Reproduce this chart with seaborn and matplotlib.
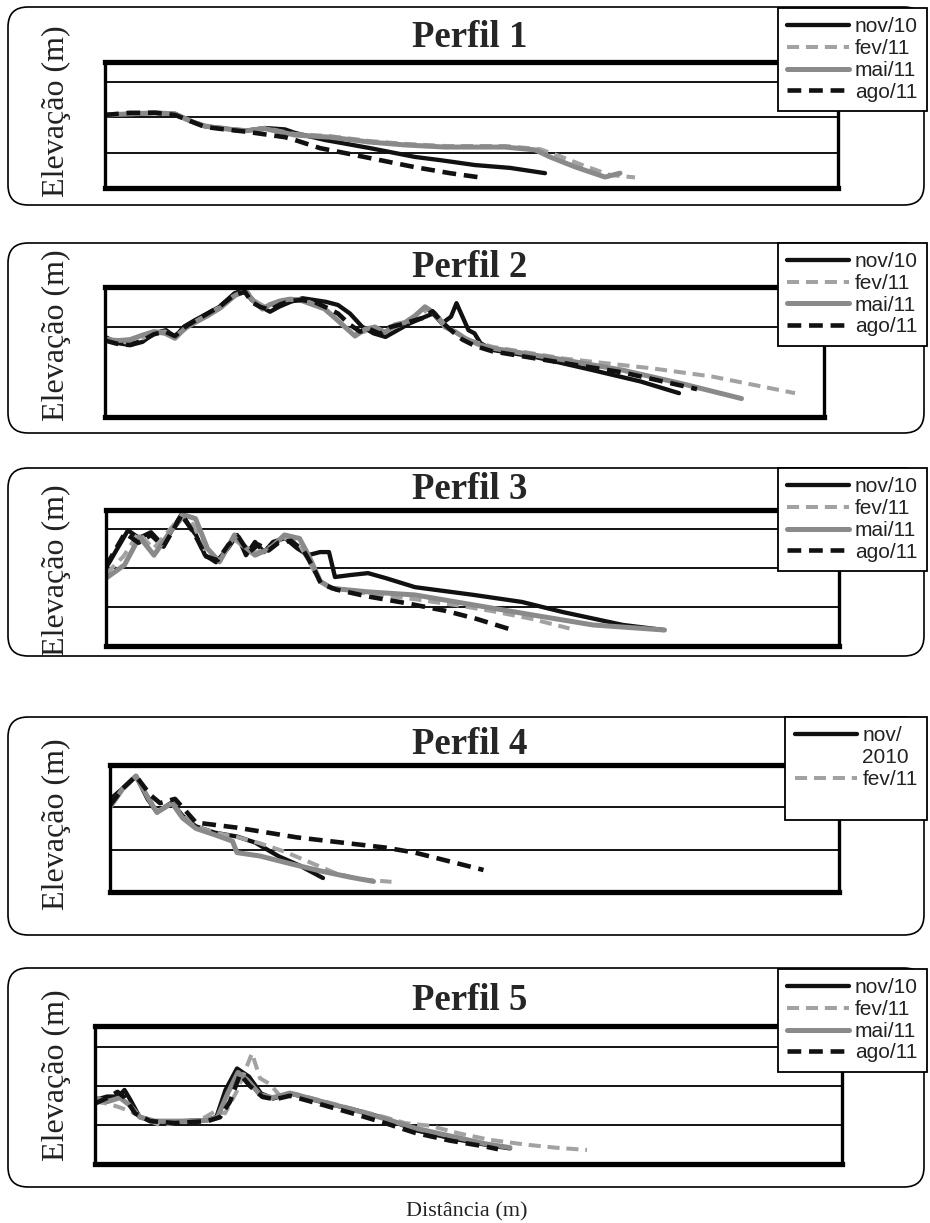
import matplotlib
matplotlib.use("Agg")
import matplotlib.pyplot as plt
import seaborn as sns
from matplotlib.patches import FancyBboxPatch
from matplotlib.lines import Line2D

# ---------------- data (distance / elevation) ----------------
# Perfil 1
p1_nov_x = [0, 5, 10, 14, 17, 20, 24, 28, 32, 36, 38, 44, 53, 62, 67, 74, 81, 88]
p1_nov_y = [2.07, 2.1, 2.13, 2.1, 1.9, 1.75, 1.68, 1.62, 1.7, 1.66, 1.56, 1.36, 1.13, 0.88, 0.79, 0.65, 0.57, 0.42]
p1_fev_x = [0, 5, 10, 14, 17, 20, 24, 28, 32, 38, 45, 53, 60, 68, 80, 87, 91, 96, 101, 106]
p1_fev_y = [2.07, 2.1, 2.13, 2.1, 1.92, 1.77, 1.7, 1.64, 1.7, 1.53, 1.47, 1.33, 1.25, 1.19, 1.19, 1.1, 0.9, 0.62, 0.37, 0.3]
p1_mai_x = [0, 5, 10, 14, 17, 20, 24, 28, 32, 38, 45, 53, 60, 68, 80, 86, 89, 94, 100, 103]
p1_mai_y = [2.07, 2.1, 2.13, 2.1, 1.9, 1.75, 1.68, 1.62, 1.68, 1.5, 1.44, 1.3, 1.22, 1.16, 1.16, 1.08, 0.88, 0.6, 0.31, 0.42]
p1_ago_x = [0, 5, 10, 14, 17, 20, 24, 28, 30, 36, 38, 43, 48, 55, 62, 69, 76]
p1_ago_y = [2.07, 2.13, 2.13, 2.07, 1.9, 1.73, 1.66, 1.6, 1.56, 1.44, 1.36, 1.13, 0.99, 0.79, 0.59, 0.42, 0.28]

# Perfil 2
p2_nov_x = [0, 2.7, 5.1, 7.5, 9.8, 12.2, 14, 15.8, 18.1, 20.5, 22.9, 25.9, 27.6, 29.4, 31.2, 33, 34.8, 37.1, 39.5, 41.9,
            44.2, 46.6, 49, 51.4, 53.7, 56.1, 58.5, 60.9, 63.2, 65.6, 67.4, 69.2, 70.3, 71.5, 72.7, 73.9, 75.1, 77.5, 85.8, 97.6,
            107.1, 114.8]
p2_nov_y = [1.78, 1.64, 1.6, 1.67, 1.86, 1.93, 1.78, 2.01, 2.16, 2.3, 2.45, 2.75, 2.82, 2.6, 2.45, 2.34, 2.45, 2.56, 2.64, 2.6,
            2.56, 2.49, 2.3, 2.01, 1.86, 1.78, 1.93, 2.08, 2.19, 2.3, 2.08, 2.23, 2.53, 2.23, 1.93, 1.86, 1.64, 1.49, 1.34, 1.04,
            0.79, 0.53]
p2_fev_x = [0, 2.7, 5, 7.5, 10, 12, 14, 16, 18, 20.5, 23, 26, 28.5, 30, 32, 34, 36, 38.5, 41, 43.5,
            46, 48, 50, 52, 54, 56, 58, 60.5, 62.5, 64.5, 66.5, 68.5, 70.5, 73, 77.5, 91.7, 109.5, 121.4, 138]
p2_fev_y = [1.75, 1.68, 1.65, 1.75, 1.88, 1.9, 1.8, 1.95, 2.12, 2.28, 2.45, 2.72, 2.78, 2.58, 2.45, 2.5, 2.6, 2.62, 2.55, 2.42,
            2.2, 2.0, 1.85, 1.9, 1.98, 1.9, 2.0, 2.1, 2.2, 2.4, 2.25, 1.98, 1.85, 1.7, 1.56, 1.3, 1.08, 0.9, 0.53]
p2_mai_x = [0, 2.7, 5, 7.5, 9.8, 12, 14, 16, 18, 20.5, 23, 26, 28, 30, 31.5, 33, 35, 37, 39, 41.5,
            44, 46.5, 48.5, 50, 52, 54, 56, 58, 60, 62, 64, 66, 68, 70, 72, 75, 77.5, 91.7, 103.6, 115.4, 127.3]
p2_mai_y = [1.72, 1.7, 1.72, 1.82, 1.9, 1.86, 1.75, 1.97, 2.1, 2.25, 2.42, 2.7, 2.8, 2.55, 2.4, 2.5, 2.58, 2.62, 2.6, 2.5,
            2.4, 2.15, 1.95, 1.8, 1.95, 2.0, 1.88, 2.05, 2.1, 2.25, 2.45, 2.3, 2.0, 1.9, 1.75, 1.6, 1.53, 1.27, 1.04, 0.74, 0.41]
p2_ago_x = [0, 2.7, 5, 7.5, 9.8, 12, 14, 16, 18, 20.5, 23, 25.9, 28, 29.4, 31, 33, 35, 37, 39.5, 42,
            44, 46.6, 49, 51, 53, 55, 57, 59, 61, 63.5, 65.5, 67.5, 69.5, 71.5, 74, 77.5, 91.7, 103.6, 118.4]
p2_ago_y = [1.7, 1.62, 1.6, 1.7, 1.84, 1.9, 1.8, 2.0, 2.14, 2.3, 2.46, 2.72, 2.78, 2.55, 2.45, 2.38, 2.5, 2.58, 2.6, 2.55,
            2.45, 2.3, 2.05, 1.9, 1.95, 1.85, 2.0, 2.05, 2.12, 2.2, 2.35, 2.1, 1.9, 1.72, 1.58, 1.46, 1.2, 0.99, 0.62]

# Perfil 3
p3_nov_x = [0, 4.4, 6.6, 9, 11.4, 15, 18, 19.8, 22, 24.4, 26.2, 28, 29.8, 31.6, 33.4, 35.8, 38.2, 40.4, 42.8, 44.6,
            45.8, 48.8, 52.4, 56, 61.8, 73.6, 83.2, 91.4, 103.4, 111.6]
p3_nov_y = [2.0, 2.97, 2.77, 2.92, 2.59, 3.36, 2.85, 2.33, 2.15, 2.51, 2.85, 2.33, 2.67, 2.41, 2.67, 2.77, 2.51, 2.33, 2.41, 2.41,
            1.77, 1.82, 1.87, 1.74, 1.51, 1.31, 1.13, 0.87, 0.54, 0.41]
p3_fev_x = [0, 3.5, 6.5, 9.5, 12.5, 15.4, 17.5, 20, 22.5, 25.5, 27.5, 30, 33, 35.5, 38.5, 40.5, 42.5, 45, 52, 61.8,
            70, 77, 85, 92.7]
p3_fev_y = [1.85, 2.3, 2.9, 2.5, 2.95, 3.4, 3.1, 2.4, 2.2, 2.75, 2.55, 2.4, 2.55, 2.78, 2.65, 2.2, 1.7, 1.5, 1.35, 1.2,
            1.05, 0.9, 0.7, 0.45]
p3_mai_x = [0, 3.7, 6.7, 9.6, 12.6, 15.6, 17.9, 20.3, 22.7, 25.7, 27.4, 29.8, 32.8, 35.7, 38.7, 40.5, 42.9, 45.2, 52.3, 61.8,
            73.7, 85.6, 97.4, 111.7]
p3_mai_y = [1.74, 2.08, 2.8, 2.33, 2.89, 3.36, 3.27, 2.5, 2.16, 2.85, 2.59, 2.33, 2.5, 2.85, 2.76, 2.33, 1.65, 1.48, 1.39, 1.31,
            1.05, 0.79, 0.54, 0.41]
p3_ago_x = [0, 3.8, 6.5, 9, 11.5, 15.2, 18, 20, 22.3, 24.5, 26.5, 28.5, 30.5, 32.5, 34.5, 37, 39.5, 41.5, 43, 46,
            52, 60, 68, 74, 80.8]
p3_ago_y = [2.05, 2.9, 2.65, 2.85, 2.55, 3.38, 2.8, 2.3, 2.2, 2.6, 2.8, 2.4, 2.6, 2.45, 2.65, 2.7, 2.45, 2.0, 1.6, 1.45,
            1.28, 1.1, 0.9, 0.7, 0.43]

# Perfil 4
p4_nov_x = [0, 2.6, 5.2, 7.5, 9.4, 12.4, 14.5, 17.2, 21, 25.4, 29, 33.8, 38, 42.6]
p4_nov_y = [2.19, 2.45, 2.74, 2.2, 1.88, 2.12, 1.8, 1.55, 1.4, 1.31, 1.17, 0.84, 0.62, 0.33]
p4_fev_x = [0, 2.6, 5.2, 7.5, 9.4, 12.4, 14.5, 17.2, 21, 25.4, 30, 35, 40, 45, 50, 56.3]
p4_fev_y = [2.05, 2.45, 2.7, 2.25, 1.9, 2.1, 1.8, 1.55, 1.4, 1.3, 1.15, 0.95, 0.7, 0.45, 0.3, 0.24]
p4_mai_x = [0, 2.6, 5.2, 7.5, 9.4, 12.4, 14.5, 17.2, 21, 24.5, 25.4, 30, 36, 42, 48, 52.7]
p4_mai_y = [2.0, 2.45, 2.74, 2.25, 1.88, 2.1, 1.75, 1.5, 1.35, 1.2, 0.93, 0.85, 0.67, 0.5, 0.35, 0.25]
p4_ago_x = [0, 2.6, 5.2, 8, 10, 13, 17.2, 25.4, 37.4, 55, 61, 74.7]
p4_ago_y = [2.05, 2.45, 2.74, 2.3, 2.1, 2.2, 1.64, 1.52, 1.29, 1.05, 0.93, 0.52]

# Perfil 5
p5_nov_x = [0, 2.4, 4.7, 5.9, 7.1, 8.9, 11.8, 16.6, 22.5, 24.3, 26.1, 28.4, 30.8, 33.2, 35.6, 39.1, 46.2, 52.2, 58.1, 64,
            71.2, 78.3, 83]
p5_nov_y = [1.64, 1.73, 1.73, 1.9, 1.64, 1.21, 1.09, 1.09, 1.13, 1.21, 1.9, 2.45, 2.24, 1.81, 1.68, 1.81, 1.56, 1.38, 1.17, 0.87,
            0.66, 0.49, 0.4]
p5_fev_x = [0, 2.5, 5, 8, 10, 13, 16, 20, 22, 24, 26, 28.5, 31.4, 33, 35, 37, 40, 46, 52, 58,
            62, 67, 73, 79, 86, 92, 98.4]
p5_fev_y = [1.6, 1.55, 1.45, 1.3, 1.15, 1.0, 1.05, 1.1, 1.2, 1.35, 1.3, 1.9, 2.84, 2.2, 2.05, 1.75, 1.8, 1.6, 1.4, 1.2,
            1.05, 0.98, 0.78, 0.62, 0.5, 0.42, 0.36]
p5_mai_x = [0, 2.5, 5, 7, 9, 12, 17, 22.5, 24.5, 26.5, 28.6, 30.5, 33, 35.5, 39, 46, 52, 58, 64, 71, 78, 83]
p5_mai_y = [1.7, 1.6, 1.7, 1.5, 1.2, 1.1, 1.1, 1.12, 1.2, 1.8, 2.35, 2.15, 1.78, 1.7, 1.82, 1.58, 1.38, 1.16, 0.92, 0.72, 0.52, 0.42]
p5_ago_x = [0, 2.5, 4.5, 6, 8, 11, 16, 22.5, 25, 27, 29, 31, 33.5, 36, 39, 46, 52, 58, 64, 71, 78, 80.6]
p5_ago_y = [1.55, 1.7, 1.85, 1.7, 1.3, 1.1, 1.05, 1.1, 1.2, 1.6, 2.3, 2.0, 1.72, 1.66, 1.75, 1.5, 1.28, 1.05, 0.8, 0.6, 0.45, 0.38]

series_labels = ["nov/10", "fev/11", "mai/11", "ago/11"]
titles = ["Perfil 1", "Perfil 2", "Perfil 3", "Perfil 4", "Perfil 5"]
p4_legend_labels = ["nov/", "2010", "fev/11", " "]
grid_levels = [[1, 2, 3], [2], [1, 2, 3], [1, 2], [1, 2, 3]]

# ---------------- styles ----------------
colors = ["#111111", "#a2a2a2", "#8a8a8a", "#111111"]
dash = (0, (3, 1.7))
styles = ["-", dash, "-", dash]
widths = [3.1, 2.9, 3.6, 3.3]

sns.set_style("white")

W, H = 930, 1223
fig = plt.figure(figsize=(W / 100, H / 100), dpi=100)
bg = fig.add_axes([0, 0, 1, 1], zorder=0)
bg.set_xlim(0, W)
bg.set_ylim(H, 0)
bg.axis("off")

# layout in pixels: box (top, bottom), plot frame (left, top, right, bottom), title baseline, ylabel centre, legend top
layout = [
    dict(box=(7, 205), frame=(105, 62, 838, 188), title_y=47, ylab_y=111, leg_top=8, xmax=146.6, ymax=3.57),
    dict(box=(243, 433), frame=(105, 287, 824, 417), title_y=277, ylab_y=335, leg_top=243, xmax=143.8, ymax=2.89),
    dict(box=(468, 656), frame=(106, 510, 839, 646), title_y=499, ylab_y=570, leg_top=468, xmax=146.6, ymax=3.49),
    dict(box=(717, 935), frame=(110, 765, 839, 892), title_y=754, ylab_y=824, leg_top=717, xmax=145.8, ymax=3.0),
    dict(box=(968, 1187), frame=(95, 1026, 842, 1164), title_y=1010, ylab_y=1075, leg_top=969, xmax=149.4, ymax=3.54),
]

panel_lines = [
    [(p1_nov_x, p1_nov_y), (p1_fev_x, p1_fev_y), (p1_mai_x, p1_mai_y), (p1_ago_x, p1_ago_y)],
    [(p2_nov_x, p2_nov_y), (p2_fev_x, p2_fev_y), (p2_mai_x, p2_mai_y), (p2_ago_x, p2_ago_y)],
    [(p3_nov_x, p3_nov_y), (p3_fev_x, p3_fev_y), (p3_mai_x, p3_mai_y), (p3_ago_x, p3_ago_y)],
    [(p4_nov_x, p4_nov_y), (p4_fev_x, p4_fev_y), (p4_mai_x, p4_mai_y), (p4_ago_x, p4_ago_y)],
    [(p5_nov_x, p5_nov_y), (p5_fev_x, p5_fev_y), (p5_mai_x, p5_mai_y), (p5_ago_x, p5_ago_y)],
]

for k, lay in enumerate(layout):
    b0, b1 = lay["box"]
    bg.add_patch(FancyBboxPatch((8, b0), 916, b1 - b0,
                                boxstyle="round,pad=0,rounding_size=20",
                                fc="white", ec="black", lw=1.2))
    bg.text(470, lay["title_y"], titles[k], ha="center", va="baseline",
            fontsize=26.5, fontweight="bold", family="Liberation Serif")
    bg.text(56, lay["ylab_y"], "Elevação (m)", ha="center", va="center", rotation=90,
            fontsize=23, family="Liberation Serif", color="#222222")

    l, t, r, b = lay["frame"]
    ax = fig.add_axes([l / W, 1 - b / H, (r - l) / W, (b - t) / H], zorder=1)
    ax.set_facecolor("white")

    for i, (xs, ys) in enumerate(panel_lines[k]):
        sns.lineplot(x=xs, y=ys, ax=ax, sort=False, estimator=None, legend=False,
                     color=colors[i], linestyle=styles[i], linewidth=widths[i],
                     label=series_labels[i])

    ax.set_xlim(0, lay["xmax"])
    ax.set_ylim(0, lay["ymax"])
    ax.set_xticks([])
    ax.set_yticks(grid_levels[k])
    ax.tick_params(left=False, labelleft=False, bottom=False, labelbottom=False)
    ax.yaxis.grid(True, color="black", lw=1.3)
    ax.set_axisbelow(True)
    ax.set_xlabel("")
    ax.set_ylabel("")
    for side in ["top", "bottom"]:
        ax.spines[side].set_linewidth(3.8)
        ax.spines[side].set_color("black")
    for side in ["left", "right"]:
        ax.spines[side].set_linewidth(2.4)
        ax.spines[side].set_color("black")

    lines = ax.get_lines()
    if k == 3:
        blank = Line2D([], [], color="none")
        handles = [lines[0], blank, lines[1], blank]
        labels = p4_legend_labels
    else:
        handles = lines[:4]
        labels = series_labels
    leg = ax.legend(handles, labels, loc="upper right",
                    bbox_to_anchor=(927 / W, 1 - lay["leg_top"] / H),
                    bbox_transform=fig.transFigure, borderaxespad=0,
                    frameon=True, fancybox=False, framealpha=1, edgecolor="black",
                    prop={"family": "Liberation Sans", "size": 15},
                    handlelength=3.0, handletextpad=0.25, labelspacing=0.13, borderpad=0.45)
    leg.get_frame().set_linewidth(1.3)
    for txt in leg.get_texts():
        txt.set_color("#222222")

bg.text(467, 1216, "Distância (m)", ha="center", va="baseline",
        fontsize=16, family="Liberation Serif", color="#222222")

fig.savefig("out.png", dpi=100)
